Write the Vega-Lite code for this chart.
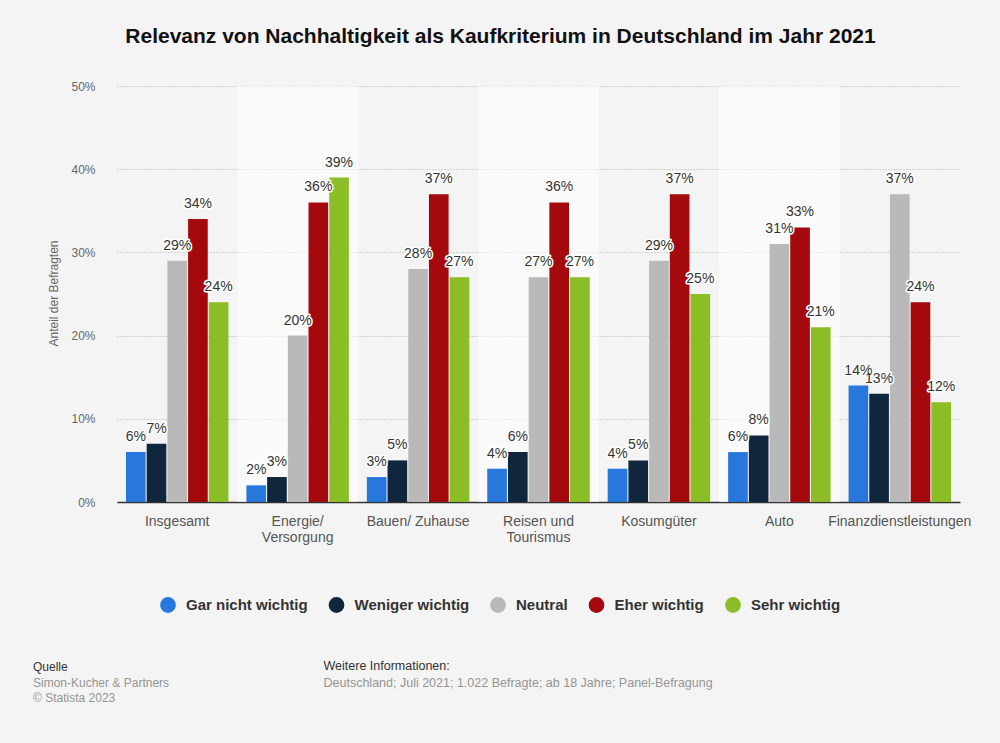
{
  "$schema": "https://vega.github.io/schema/vega-lite/v6.json",
  "width": 843,
  "height": 416,
  "autosize": {"type": "none"},
  "padding": {"left": 117, "top": 86, "right": 40, "bottom": 241},
  "background": "#f4f4f4",
  "config": {
    "font": "Liberation Sans",
    "view": {"stroke": null}
  },
  "title": {
    "text": "Quelle",
    "subtitle": ["Simon-Kucher & Partners", "© Statista 2023"],
    "orient": "bottom",
    "anchor": "start",
    "frame": "group",
    "offset": 0,
    "dx": -84,
    "dy": -27,
    "font": "Liberation Sans",
    "fontSize": 12,
    "fontWeight": "normal",
    "color": "#333333",
    "subtitleFont": "Liberation Sans",
    "subtitleFontSize": 12,
    "subtitleColor": "#949494",
    "subtitleLineHeight": 15.5,
    "subtitlePadding": 4
  },
  "datasets": {
    "bars": [
      {"cat": "Insgesamt", "series": "Gar nicht wichtig", "value": 0.06},
      {"cat": "Insgesamt", "series": "Weniger wichtig", "value": 0.07},
      {"cat": "Insgesamt", "series": "Neutral", "value": 0.29},
      {"cat": "Insgesamt", "series": "Eher wichtig", "value": 0.34},
      {"cat": "Insgesamt", "series": "Sehr wichtig", "value": 0.24},
      {"cat": "Energie/ Versorgung", "series": "Gar nicht wichtig", "value": 0.02},
      {"cat": "Energie/ Versorgung", "series": "Weniger wichtig", "value": 0.03},
      {"cat": "Energie/ Versorgung", "series": "Neutral", "value": 0.20},
      {"cat": "Energie/ Versorgung", "series": "Eher wichtig", "value": 0.36},
      {"cat": "Energie/ Versorgung", "series": "Sehr wichtig", "value": 0.39},
      {"cat": "Bauen/ Zuhause", "series": "Gar nicht wichtig", "value": 0.03},
      {"cat": "Bauen/ Zuhause", "series": "Weniger wichtig", "value": 0.05},
      {"cat": "Bauen/ Zuhause", "series": "Neutral", "value": 0.28},
      {"cat": "Bauen/ Zuhause", "series": "Eher wichtig", "value": 0.37},
      {"cat": "Bauen/ Zuhause", "series": "Sehr wichtig", "value": 0.27},
      {"cat": "Reisen und Tourismus", "series": "Gar nicht wichtig", "value": 0.04},
      {"cat": "Reisen und Tourismus", "series": "Weniger wichtig", "value": 0.06},
      {"cat": "Reisen und Tourismus", "series": "Neutral", "value": 0.27},
      {"cat": "Reisen und Tourismus", "series": "Eher wichtig", "value": 0.36},
      {"cat": "Reisen und Tourismus", "series": "Sehr wichtig", "value": 0.27},
      {"cat": "Kosumgüter", "series": "Gar nicht wichtig", "value": 0.04},
      {"cat": "Kosumgüter", "series": "Weniger wichtig", "value": 0.05},
      {"cat": "Kosumgüter", "series": "Neutral", "value": 0.29},
      {"cat": "Kosumgüter", "series": "Eher wichtig", "value": 0.37},
      {"cat": "Kosumgüter", "series": "Sehr wichtig", "value": 0.25},
      {"cat": "Auto", "series": "Gar nicht wichtig", "value": 0.06},
      {"cat": "Auto", "series": "Weniger wichtig", "value": 0.08},
      {"cat": "Auto", "series": "Neutral", "value": 0.31},
      {"cat": "Auto", "series": "Eher wichtig", "value": 0.33},
      {"cat": "Auto", "series": "Sehr wichtig", "value": 0.21},
      {"cat": "Finanzdienstleistungen", "series": "Gar nicht wichtig", "value": 0.14},
      {"cat": "Finanzdienstleistungen", "series": "Weniger wichtig", "value": 0.13},
      {"cat": "Finanzdienstleistungen", "series": "Neutral", "value": 0.37},
      {"cat": "Finanzdienstleistungen", "series": "Eher wichtig", "value": 0.24},
      {"cat": "Finanzdienstleistungen", "series": "Sehr wichtig", "value": 0.12}
    ],
    "bands": [
      {"cat": "Energie/ Versorgung"},
      {"cat": "Reisen und Tourismus"},
      {"cat": "Auto"}
    ]
  },
  "resolve": {"axis": {"x": "independent", "y": "independent"}},
  "layer": [
    {
      "data": {"name": "bands"},
      "mark": {"type": "rect", "color": "#ffffff", "opacity": 0.55},
      "encoding": {
        "x": {
          "field": "cat", "type": "nominal",
          "scale": {"type": "band", "paddingInner": 0, "paddingOuter": 0,
            "domain": ["Insgesamt", "Energie/ Versorgung", "Bauen/ Zuhause", "Reisen und Tourismus", "Kosumgüter", "Auto", "Finanzdienstleistungen"]},
          "axis": {
            "orient": "top", "labels": false, "ticks": false, "domain": false, "grid": false,
            "title": "Relevanz von Nachhaltigkeit als Kaufkriterium in Deutschland im Jahr 2021",
            "titleX": 383, "titleY": -44, "titleAlign": "center", "titleBaseline": "alphabetic",
            "titleFont": "Liberation Sans", "titleFontSize": 21, "titleFontWeight": "bold", "titleColor": "#111111"
          }
        },
        "y": {"value": 0},
        "y2": {"value": "height"}
      }
    },
    {
      "data": {"name": "bars"},
      "mark": {"type": "bar"},
      "encoding": {
        "x": {
          "field": "cat", "type": "nominal",
          "scale": {"type": "band", "paddingInner": 0, "paddingOuter": 0,
            "domain": ["Insgesamt", "Energie/ Versorgung", "Bauen/ Zuhause", "Reisen und Tourismus", "Kosumgüter", "Auto", "Finanzdienstleistungen"]},
          "axis": {
            "orient": "bottom",
            "labelExpr": "datum.value == 'Energie/ Versorgung' ? ['Energie/', 'Versorgung'] : datum.value == 'Reisen und Tourismus' ? ['Reisen und', 'Tourismus'] : datum.value",
            "labelAngle": 0, "labelFontSize": 14, "labelColor": "#555555", "labelPadding": 12, "labelLineHeight": 16,
            "labelFont": "Liberation Sans",
            "ticks": false, "grid": false, "domain": true, "domainColor": "#333333", "domainWidth": 1.5,
            "title": "Weitere Informationen:",
            "titleX": 206, "titleY": 167, "titleAlign": "left", "titleBaseline": "alphabetic",
            "titleFont": "Liberation Sans", "titleFontSize": 12.5, "titleFontWeight": "normal", "titleColor": "#333333"
          }
        },
        "xOffset": {
          "field": "series", "type": "nominal",
          "scale": {"domain": ["Gar nicht wichtig", "Weniger wichtig", "Neutral", "Eher wichtig", "Sehr wichtig"], "paddingInner": 0.05, "paddingOuter": 0.434}
        },
        "y": {
          "field": "value", "type": "quantitative",
          "scale": {"domain": [0, 0.5], "nice": false},
          "axis": {
            "orient": "left",
            "values": [0, 0.1, 0.2, 0.3, 0.4, 0.5], "format": ".0%",
            "labelFontSize": 12, "labelColor": "#666666", "labelPadding": 22, "labelFont": "Liberation Sans",
            "ticks": false, "domain": false,
            "grid": true, "gridDash": [1, 2], "gridColor": "#b0b0b0", "gridWidth": 1,
            "title": "Anteil der Befragten",
            "titleX": -64, "titleY": 207, "titleAngle": -90, "titleAlign": "center", "titleBaseline": "middle",
            "titleFont": "Liberation Sans", "titleFontSize": 12, "titleFontWeight": "normal", "titleColor": "#666666"
          }
        },
        "color": {
          "field": "series", "type": "nominal",
          "scale": {
            "domain": ["Gar nicht wichtig", "Weniger wichtig", "Neutral", "Eher wichtig", "Sehr wichtig"],
            "range": ["#2877dc", "#10263d", "#b9b9b9", "#a40a0d", "#8bbd26"]
          },
          "legend": {
            "orient": "none", "legendX": 43, "legendY": 511,
            "direction": "horizontal", "title": null,
            "symbolType": "circle", "symbolSize": 250, "symbolStrokeWidth": 0,
            "labelFont": "Liberation Sans", "labelFontSize": 15, "labelFontWeight": "bold", "labelColor": "#333333",
            "labelOffset": 10, "columnPadding": 20.5, "labelLimit": 300
          }
        }
      }
    },
    {
      "data": {"name": "bars"},
      "mark": {"type": "text", "baseline": "alphabetic", "dy": -11, "fontSize": 14, "font": "Liberation Sans",
        "stroke": "#ffffff", "strokeWidth": 3, "strokeJoin": "round", "fill": "#ffffff"},
      "encoding": {
        "x": {"field": "cat", "type": "nominal", "axis": null},
        "xOffset": {"field": "series", "type": "nominal"},
        "y": {"field": "value", "type": "quantitative", "axis": null},
        "text": {"field": "value", "type": "quantitative", "format": ".0%"}
      }
    },
    {
      "data": {"name": "bars"},
      "mark": {"type": "text", "baseline": "alphabetic", "dy": -11, "fontSize": 14, "font": "Liberation Sans", "fill": "#333333"},
      "encoding": {
        "x": {"field": "cat", "type": "nominal", "axis": null},
        "xOffset": {"field": "series", "type": "nominal"},
        "y": {
          "field": "value", "type": "quantitative",
          "axis": {
            "orient": "right", "labels": false, "ticks": false, "domain": false, "grid": false,
            "title": "Deutschland; Juli 2021; 1.022 Befragte; ab 18 Jahre; Panel-Befragung",
            "titleAngle": 0, "titleX": -637, "titleY": 600, "titleAlign": "left", "titleBaseline": "alphabetic",
            "titleFont": "Liberation Sans", "titleFontSize": 12.5, "titleFontWeight": "normal", "titleColor": "#949494"
          }
        },
        "text": {"field": "value", "type": "quantitative", "format": ".0%"}
      }
    }
  ]
}
